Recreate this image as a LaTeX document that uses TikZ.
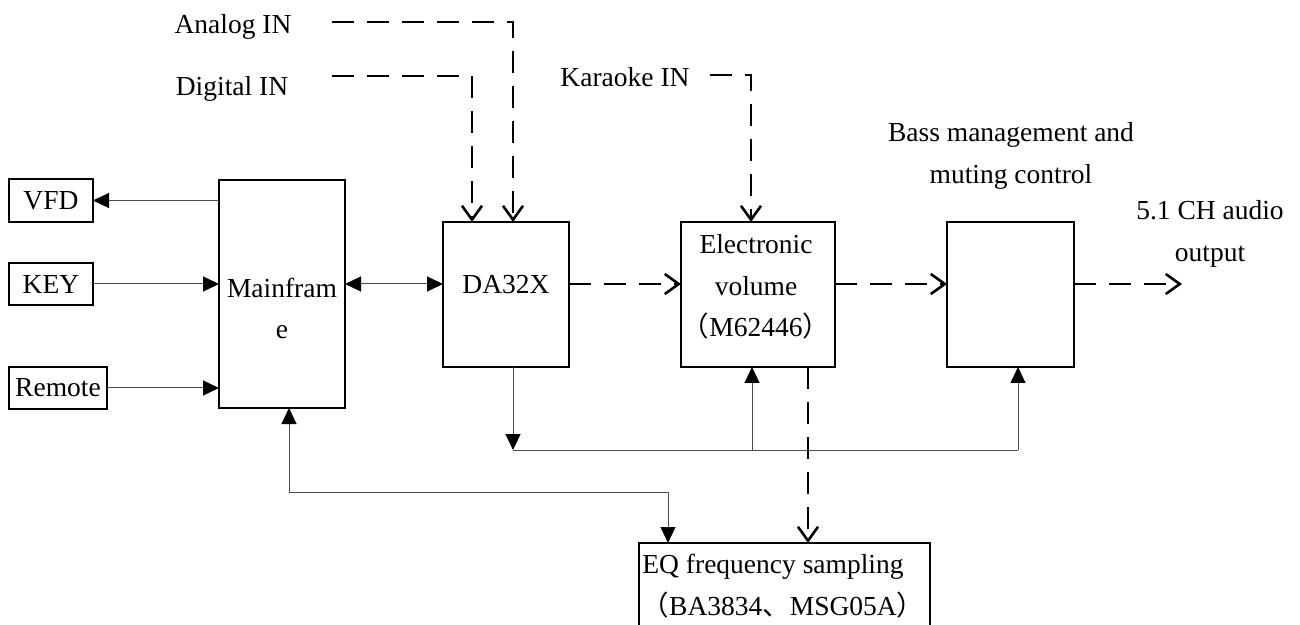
\documentclass[tikz,border=0pt]{standalone}
\usepackage{fontspec}
\setmainfont{Liberation Serif}
\newfontfamily\cjk{Noto Sans CJK SC}
\usetikzlibrary{arrows.meta}
\begin{document}
\begin{tikzpicture}[x=0.5pt,y=-0.5pt,
  font=\fontsize{13.75pt}{20.75pt}\selectfont,
  box/.style={draw=black,line width=1pt,rectangle,inner sep=0pt,outer sep=0pt},
  txt/.style={inner sep=0pt,align=center},
  sarrow/.style={draw=black!70,line width=0.5pt,-{Triangle[length=8pt,width=7.5pt,fill=black,color=black]}},
  sboth/.style={draw=black!70,line width=0.5pt,{Triangle[length=8pt,width=7.5pt,fill=black,color=black]}-{Triangle[length=8pt,width=7.5pt,fill=black,color=black]}},
  sline/.style={draw=black!70,line width=0.5pt},
  darrow/.style={draw=black,line width=1.4pt,dash pattern=on 11pt off 6.5pt,-{Straight Barb[length=7pt,width=10pt,line width=1.3pt]}}
]
\useasboundingbox (0,0) rectangle (1300,625);
% boxes
\node[box,minimum width=42pt,minimum height=21.5pt] (vfd) at (51,200.5) {VFD};
\node[box,minimum width=42pt,minimum height=21pt] (key) at (51,284) {KEY};
\node[box,minimum width=49pt,minimum height=21pt] (remote) at (58,388) {Remote};
\node[box,minimum width=63pt,minimum height=114pt] (mf) at (282,294) {};
\node[box,minimum width=63pt,minimum height=72.5pt] (da) at (506,294.5) {};
\node[box,minimum width=77pt,minimum height=72.5pt] (ev) at (758,294.5) {};
\node[box,minimum width=63.5pt,minimum height=72.5pt] (bass) at (1010.5,294.5) {};
\node[box,minimum width=145.5pt,minimum height=60pt] (eq) at (784.5,603) {};
% texts
\node[txt] (mftext) at (282,308.5) {Mainfram\\e};
\node[txt] (datext) at (506,285) {DA32X};
\node[txt] (evtext) at (756,287) {Electronic\\volume\\{\cjk （}M62446{\cjk ）}};
\node[txt] (eqtext1) at (773,567) {EQ frequency sampling};
\node[txt] (eqtext2) at (783,605) {{\cjk （}BA3834{\cjk 、}MSG05A{\cjk ）}};
\node[txt] (analog) at (233,27) {Analog IN};
\node[txt] (digital) at (232,89) {Digital IN};
\node[txt] (karaoke) at (625,77) {Karaoke IN};
\node[txt] (basstext) at (1011,156) {Bass management and\\muting control};
\node[txt] (outtext) at (1210,234) {5.1 CH audio\\output};
% coordinates
\coordinate (ain) at (332,22);
\coordinate (acor) at (513,22);
\coordinate (din) at (332,76);
\coordinate (dcor) at (472,76);
\coordinate (kin) at (710,75);
\coordinate (kcor) at (751,75);
\coordinate (sig) at (0,284);
\coordinate (out) at (1182,284);
\coordinate (bus1) at (513,450);
\coordinate (bus2) at (752,450);
\coordinate (bus3) at (1018,450);
\coordinate (eqd) at (808,0);
\coordinate (k0) at (289,0);
\coordinate (k1) at (289,492);
\coordinate (k2) at (668,492);
% solid connectors
\draw[sarrow] (mf.west |- vfd.east) -- (vfd.east);
\draw[sarrow] (key.east) -- (key.east -| mf.west);
\draw[sarrow] (remote.east) -- (remote.east -| mf.west);
\draw[sboth] (mf.east |- sig) -- (da.west |- sig);
\draw[sarrow] (da.south -| bus1) -- (bus1);
\draw[sline] (bus1) -- (bus3);
\draw[sarrow] (bus2) -- (ev.south -| bus2);
\draw[sarrow] (bus3) -- (bass.south -| bus3);
\draw[sboth] (mf.south -| k0) -- (k1) -- (k2) -- (eq.north -| k2);
% dashed connectors
\draw[darrow] (ain) -- (acor) -- (da.north -| acor);
\draw[darrow] (din) -- (dcor) -- (da.north -| dcor);
\draw[darrow] (kin) -- (kcor) -- (ev.north -| kcor);
\draw[darrow] (da.east |- sig) -- (ev.west |- sig);
\draw[darrow] (ev.east |- sig) -- (bass.west |- sig);
\draw[darrow] (bass.east |- sig) -- (out);
\draw[darrow] (ev.south -| eqd) -- (eq.north -| eqd);
\end{tikzpicture}
\end{document}
